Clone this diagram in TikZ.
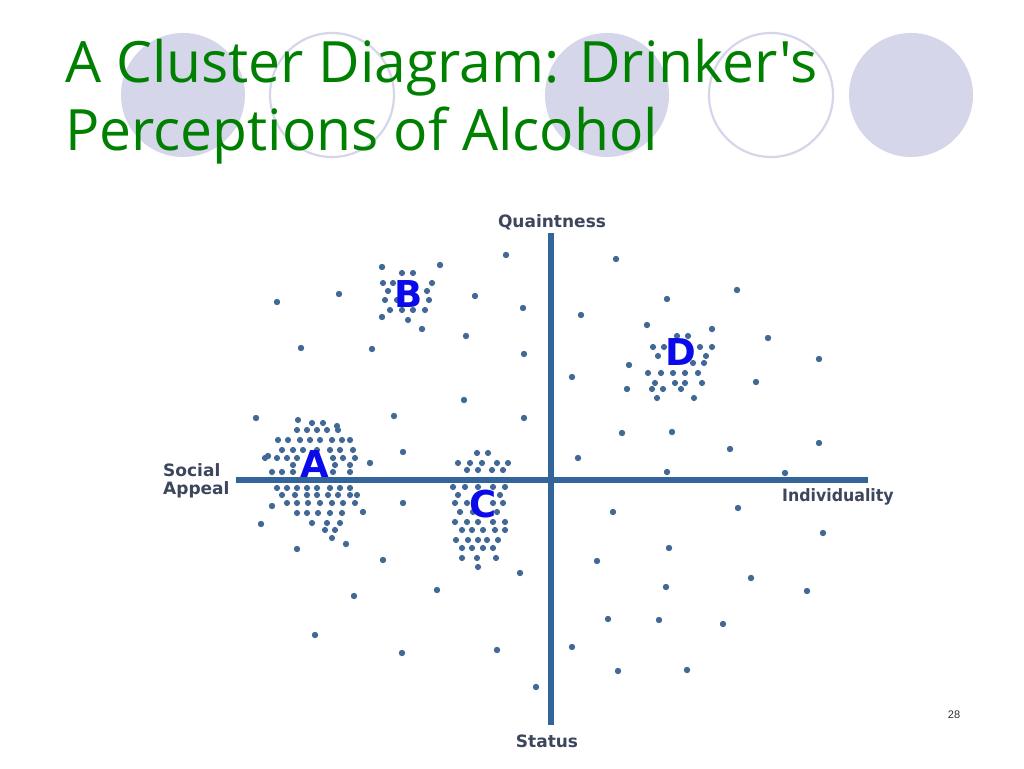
\documentclass[tikz,border=0pt]{standalone}
\usepackage{fontspec}
\setmainfont{Liberation Sans}
\newfontfamily\titlefont{Open Sans}
\newfontfamily\labelfont{DejaVu Sans}
\definecolor{lav}{RGB}{214,214,234}
\definecolor{titlegreen}{RGB}{0,128,0}
\definecolor{axisblue}{RGB}{52,101,154}
\definecolor{dotblue}{RGB}{66,104,150}
\definecolor{labgray}{RGB}{62,70,94}
\definecolor{letterblue}{RGB}{10,10,235}
\begin{document}
\begin{tikzpicture}[x=1pt,y=-1pt,
  discfill/.style={fill=lav},
  discring/.style={draw=lav,line width=2.2pt,fill=white},
  titletext/.style={anchor=base west,inner sep=0pt,text=titlegreen,font=\titlefont\fontsize{57}{60}\selectfont},
  axisline/.style={draw=axisblue,line width=6pt},
  axlabel/.style={inner sep=0pt,text=labgray,font=\labelfont\bfseries\fontsize{17}{17.7}\selectfont},
  clusterletter/.style={anchor=base,inner sep=0pt,text=letterblue,font=\labelfont\bfseries\fontsize{37}{40}\selectfont},
  dotmark/.style={fill=dotblue},
  pagenum/.style={anchor=base,inner sep=0pt,text=black!80,font=\fontsize{11}{13}\selectfont}]
\useasboundingbox[fill=white] (0,0) rectangle (1024,768);
% decorative circles
\fill[discfill] (183,95) circle[radius=62pt];
\draw[discring] (332,95) circle[radius=62pt];
\fill[discfill] (607,95) circle[radius=62pt];
\draw[discring] (771,95) circle[radius=62pt];
\fill[discfill] (911,95) circle[radius=62pt];
% title
\node[titletext] (t1) at (65,82) {A Cluster Diagram: Drinker's};
\node[titletext] (t2) at (65,150) {Perceptions of Alcohol};
% axes
\coordinate (qtop) at (551,233);
\coordinate (sbot) at (551,725);
\coordinate (aleft) at (236,480);
\coordinate (iright) at (868,480);
\draw[axisline] (qtop) -- (sbot);
\draw[axisline] (aleft) -- (iright);
% axis labels
\node[axlabel,anchor=base] (lq) at (552,227) {Quaintness};
\node[axlabel,anchor=base] (ls) at (547,747) {Status};
\node[axlabel,anchor=base west,xscale=0.93] (li) at (782,501) {Individuality};
\node[axlabel,anchor=base west,align=left] (la) at (163,494) {Social\\Appeal};
% scattered dots
\foreach \x/\y in {382/267,440/265,506/255,339/294,277/302,475/296,523/308,382/317,422/329,466/336,301/348,372/349,524/354,464/400,394/416,524/418,256/418,403/452,370/463,268/456,
272/506,261/524,363/512,403/503,346/544,297/549,383/560,354/596,437/590,520/573,315/635,402/653,497/650,536/687,
616/259,737/290,667/299,581/315,647/325,712/329,768/338,819/359,572/377,629/365,627/389,756/382,622/433,672/432,730/449,819/443,578/458,667/472,785/473,
613/512,738/508,823/533,669/548,597/561,751/578,807/591,666/587,608/619,659/620,723/624,572/647,618/671,687/670}
  \fill[dotmark] (\x,\y) circle[radius=3.2pt];
% cluster A
\foreach \y/\xs in {420/{298},423/{312,323},426/{337},430/{297,307,317,327,338},
  440/{278,288,300,310,320,332,342,350},450/{282,293,303,317,330,340,353},
  458/{265,277,287,297,333,343,355},465/{293,335,350},472/{272,282,293,333,350},
  488/{277,287,297,307,317,330,340,350},495/{282,295,307,317,328,338,350,357},
  503/{287,297,308,320,332,343,355},513/{297,307,318,330,342},523/{312,327,340},
  530/{325,335},538/{332}}
  \foreach \x in \xs \fill[dotmark] (\x,\y) circle[radius=3.1pt];
% cluster B
\foreach \y/\xs in {273/{402,413},283/{383,393,432},291/{388,427},300/{385,397,429},
  310/{390,402,413,425},320/{408}}
  \foreach \x in \xs \fill[dotmark] (\x,\y) circle[radius=3.1pt];
% cluster C
\foreach \y/\xs in {453/{477,488},463/{458,470,482,497,508},470/{467,478,492,503},
  487/{453,465,478,493,505},495/{458,500},503/{455,467,493,503},512/{460,473,497},
  522/{455,467,478,493,505},530/{462,472,483,495,505},540/{456,468,478,487,498},
  548/{462,472,483,493},558/{462,477,496},567/{478}}
  \foreach \x in \xs \fill[dotmark] (\x,\y) circle[radius=3.1pt];
% cluster D
\foreach \y/\xs in {336/{677,688},347/{653,664,700,712},356/{658,706},363/{693,704},
  373/{648,661,673,685,698},383/{655,675,685,702},389/{652,663,681},398/{657,694}}
  \foreach \x in \xs \fill[dotmark] (\x,\y) circle[radius=3.1pt];
% cluster letters
\node[clusterletter] (cA) at (315,477) {A};
\node[clusterletter] (cB) at (409,307) {B};
\node[clusterletter] (cC) at (483,517) {C};
\node[clusterletter] (cD) at (681,365) {D};
% page number
\node[pagenum] (pn) at (954,718) {28};
\end{tikzpicture}
\end{document}
